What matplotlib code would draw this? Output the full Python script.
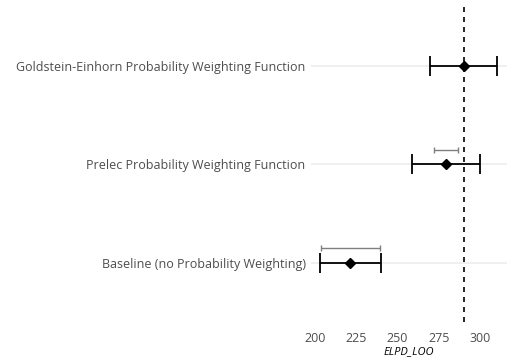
import matplotlib.pyplot as plt

models = ['Baseline (no Probability Weighting)',
          'Prelec Probability Weighting Function',
          'Goldstein-Einhorn Probability Weighting Function']
elpd = [221.3, 279.3, 290.0]
elpd_se = [18.4, 20.7, 20.5]
diff_se = [17.8, 7.4, 0.0]

plt.rcParams['font.family'] = ['Open Sans', 'DejaVu Sans']

fig = plt.figure(figsize=(5.1, 3.6), dpi=100)
ax = fig.add_axes([0.610, 0.106, 0.384, 0.875])

y = list(range(len(models)))
for i in y:
    ax.axhline(i, color='#ebebeb', lw=1.1, zorder=0)

ax.axvline(elpd[-1], color='black', ls=(0, (3, 3)), lw=1.2, zorder=1)

ax.errorbar(elpd, y, xerr=elpd_se, fmt='D', color='black', ms=5.5,
            capsize=7, capthick=1.3, elinewidth=1.3, zorder=3)

# difference standard errors, drawn a bit above each row
yd = [i + 0.15 for i in y if diff_se[i] > 0]
xd = [elpd[i] for i in y if diff_se[i] > 0]
sd = [diff_se[i] for i in y if diff_se[i] > 0]
ax.errorbar(xd, yd, xerr=sd, fmt='none', ecolor='#7f7f7f',
            capsize=2, capthick=1.0, elinewidth=1.0, zorder=2)

ax.set_yticks(y)
ax.set_yticklabels(models)
ax.set_xticks([200, 225, 250, 275, 300])
ax.set_xlim(197.6, 316.3)
ax.set_ylim(-0.6, 2.6)
ax.tick_params(length=0, labelsize=9, colors='#4d4d4d', pad=4)
ax.tick_params(axis='x', pad=7)
for s in ax.spines.values():
    s.set_visible(False)
ax.set_xlabel('ELPD_LOO', style='italic', fontsize=8, labelpad=1)

fig.savefig('out.png', dpi=100)
